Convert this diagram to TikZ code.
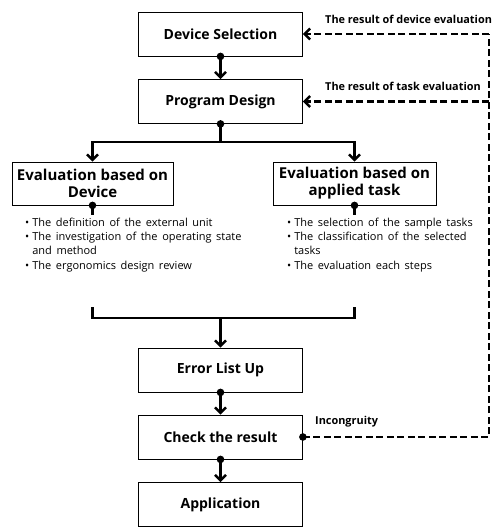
\documentclass[tikz,border=0pt]{standalone}
\usepackage{fontspec}
\setmainfont{Open Sans}
\usetikzlibrary{arrows.meta}
\newcommand{\lstfont}{\fontsize{11}{14.3}\selectfont\spaceskip=4.6pt plus 1pt\relax}
\tikzset{
  box/.style={draw, line width=0.8pt, minimum width=164pt, minimum height=44pt, inner sep=1pt,
    font=\bfseries\fontsize{14}{16}\selectfont},
  evalbox/.style={draw, line width=0.8pt, minimum height=43pt, inner sep=1pt, align=center,
    font=\bfseries\fontsize{15}{17}\selectfont},
  flow/.style={line width=2.8pt, -{Straight Barb[length=5.5pt,width=11pt,line width=2.4pt]}},
  bar/.style={line width=2.8pt},
  fb/.style={line width=2.8pt, dash pattern=on 7pt off 3.5pt, -{Straight Barb[length=5.5pt,width=11pt,line width=2.4pt]}},
  fbline/.style={line width=2.8pt, dash pattern=on 7pt off 3.5pt},
  lbl/.style={font=\bfseries\fontsize{10.9}{12}\selectfont, inner sep=0pt},
  lst/.style={inner sep=0pt, anchor=north west, align=left},
}
\newcommand{\bdot}[1]{\fill #1 circle (3.8pt);}
\begin{document}
\begin{tikzpicture}[x=1pt,y=-1pt]
\useasboundingbox[fill=white] (0,0) rectangle (496,528);
\node[box] (ds) at (220.5,34) {Device Selection};
\node[box] (pd) at (220.5,101.5) {Program Design};
\node[evalbox, minimum width=161pt] (ed) at (92.5,183.5) {Evaluation based on\\Device};
\node[evalbox, minimum width=163pt] (ea) at (354.5,183.5) {Evaluation based on\\applied task};
\node[box] (el) at (220.5,370) {Error List Up};
\node[box] (cr) at (220.5,437) {Check the result};
\node[box] (ap) at (220.5,504.5) {Application};

% top flow
\draw[flow] (ds.south) -- (pd.north);
\bdot{(ds.south)}
\coordinate (j1) at (220.5,142);
\draw[bar] (pd.south) -- (j1);
\draw[flow] (j1) -| (ed.north);
\draw[flow] (j1) -| (ea.north);
\bdot{(pd.south)}

% stubs below eval boxes
\coordinate (sl) at (92.5,215);
\coordinate (sr) at (354.5,215);
\draw[bar] (ed.south) -- (sl);
\draw[bar] (ea.south) -- (sr);
\bdot{(ed.south)}
\bdot{(ea.south)}

% lists
\node[lst] (ll) at (25,216) {\lstfont\begin{tabular}{@{}l@{\hspace{3pt}}l@{}}
\textbullet & The definition of the external unit\\
\textbullet & The investigation of the operating state\\
 & and method\\
\textbullet & The ergonomics design review
\end{tabular}};
\node[lst] (rl) at (287,216) {\lstfont\begin{tabular}{@{}l@{\hspace{3pt}}l@{}}
\textbullet & The selection of the sample tasks\\
\textbullet & The classification of the selected\\
 & tasks\\
\textbullet & The evaluation each steps
\end{tabular}};

% merge bracket
\coordinate (bl) at (92.5,307);
\coordinate (br) at (354.5,307);
\coordinate (j2) at (220.5,318);
\draw[bar] (bl) |- (j2) -| (br);
\draw[flow] (j2) -- (el.north);

% bottom flow
\draw[flow] (el.south) -- (cr.north);
\bdot{(el.south)}
\draw[flow] (cr.south) -- (ap.north);
\bdot{(cr.south)}

% feedback
\coordinate (rt) at (489,34);
\draw[fbline] (cr.east) -| (rt);
\draw[fb] (rt) -- (ds.east);
\draw[fb] (rt |- pd.east) -- (pd.east);
\bdot{(cr.east)}

\node[lbl, anchor=west] (l1) at (325,19) {The result of device evaluation};
\node[lbl, anchor=west] (l2) at (325,86) {The result of task evaluation};
\node[lbl, anchor=west] (l3) at (315,422) {Incongruity};
\end{tikzpicture}
\end{document}
